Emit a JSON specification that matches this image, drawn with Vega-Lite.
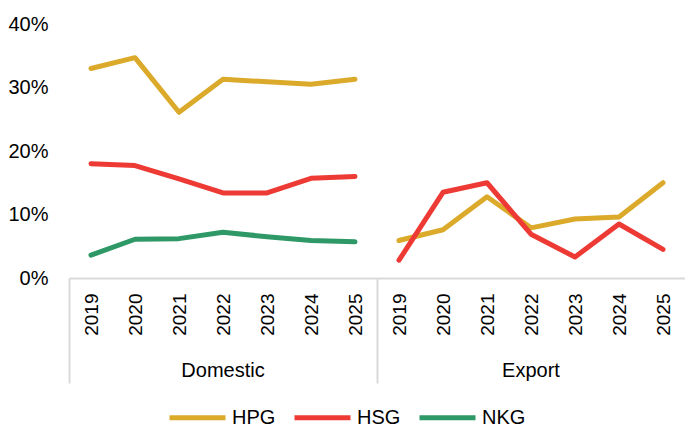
{
  "$schema": "https://vega.github.io/schema/vega-lite/v6.json",
  "padding": {"left": 7, "top": 14, "right": 0, "bottom": 0},
  "background": "white",
  "data": {"values": [
    {"market": "Domestic", "year": "2019", "company": "HPG", "share": 0.330},
    {"market": "Domestic", "year": "2020", "company": "HPG", "share": 0.347},
    {"market": "Domestic", "year": "2021", "company": "HPG", "share": 0.261},
    {"market": "Domestic", "year": "2022", "company": "HPG", "share": 0.313},
    {"market": "Domestic", "year": "2023", "company": "HPG", "share": 0.309},
    {"market": "Domestic", "year": "2024", "company": "HPG", "share": 0.305},
    {"market": "Domestic", "year": "2025", "company": "HPG", "share": 0.313},
    {"market": "Domestic", "year": "2019", "company": "HSG", "share": 0.180},
    {"market": "Domestic", "year": "2020", "company": "HSG", "share": 0.177},
    {"market": "Domestic", "year": "2021", "company": "HSG", "share": 0.156},
    {"market": "Domestic", "year": "2022", "company": "HSG", "share": 0.134},
    {"market": "Domestic", "year": "2023", "company": "HSG", "share": 0.134},
    {"market": "Domestic", "year": "2024", "company": "HSG", "share": 0.157},
    {"market": "Domestic", "year": "2025", "company": "HSG", "share": 0.160},
    {"market": "Domestic", "year": "2019", "company": "NKG", "share": 0.036},
    {"market": "Domestic", "year": "2020", "company": "NKG", "share": 0.061},
    {"market": "Domestic", "year": "2021", "company": "NKG", "share": 0.062},
    {"market": "Domestic", "year": "2022", "company": "NKG", "share": 0.072},
    {"market": "Domestic", "year": "2023", "company": "NKG", "share": 0.065},
    {"market": "Domestic", "year": "2024", "company": "NKG", "share": 0.059},
    {"market": "Domestic", "year": "2025", "company": "NKG", "share": 0.057},
    {"market": "Export", "year": "2019", "company": "HPG", "share": 0.059},
    {"market": "Export", "year": "2020", "company": "HPG", "share": 0.076},
    {"market": "Export", "year": "2021", "company": "HPG", "share": 0.128},
    {"market": "Export", "year": "2022", "company": "HPG", "share": 0.079},
    {"market": "Export", "year": "2023", "company": "HPG", "share": 0.093},
    {"market": "Export", "year": "2024", "company": "HPG", "share": 0.096},
    {"market": "Export", "year": "2025", "company": "HPG", "share": 0.150},
    {"market": "Export", "year": "2019", "company": "HSG", "share": 0.028},
    {"market": "Export", "year": "2020", "company": "HSG", "share": 0.135},
    {"market": "Export", "year": "2021", "company": "HSG", "share": 0.150},
    {"market": "Export", "year": "2022", "company": "HSG", "share": 0.069},
    {"market": "Export", "year": "2023", "company": "HSG", "share": 0.033},
    {"market": "Export", "year": "2024", "company": "HSG", "share": 0.085},
    {"market": "Export", "year": "2025", "company": "HSG", "share": 0.045}
  ]},
  "facet": {
    "column": {
      "field": "market", "type": "nominal", "sort": ["Domestic", "Export"],
      "header": {"title": null, "labelOrient": "bottom", "labelFontSize": 20, "labelFont": "Liberation Sans", "labelColor": "#000000", "labelPadding": -23}
    }
  },
  "spacing": 0,
  "spec": {
    "width": 308,
    "height": 254,
    "mark": {"type": "line", "strokeWidth": 5, "strokeCap": "round", "strokeJoin": "round"},
    "encoding": {
      "x": {
        "field": "year", "type": "ordinal",
        "scale": {"type": "band", "paddingInner": 0, "paddingOuter": 0},
        "axis": {
          "title": null,
          "domainColor": "#D9D9D9", "domainWidth": 2,
          "tickBand": "extent",
          "tickSize": 105, "tickWidth": 2, "tickColor": "#D9D9D9",
          "tickOpacity": {"condition": {"test": "datum.extra", "value": 1}, "value": 0},
          "labelAngle": -90, "labelAlign": "right", "labelBaseline": "middle",
          "labelPadding": -90, "labelFontSize": 19, "labelFont": "Liberation Sans", "labelColor": "#000000"
        }
      },
      "y": {
        "field": "share", "type": "quantitative",
        "scale": {"domain": [0, 0.4]},
        "axis": {"title": null, "format": ".0%", "values": [0, 0.1, 0.2, 0.3, 0.4], "grid": false, "domain": false, "ticks": false, "labelPadding": 21, "labelFontSize": 20, "labelFont": "Liberation Sans", "labelColor": "#000000"}
      },
      "color": {
        "field": "company", "type": "nominal",
        "scale": {"domain": ["HPG", "HSG", "NKG"], "range": ["#DBAA2A", "#EE3A34", "#2E9966"]},
        "legend": {"title": null, "orient": "bottom", "direction": "horizontal", "symbolType": "stroke", "symbolStrokeWidth": 5, "symbolSize": 3136, "labelFontSize": 20, "labelFont": "Liberation Sans", "labelColor": "#000000", "labelOffset": 4, "columnPadding": 8, "offset": 3}
      }
    }
  },
  "config": {"view": {"stroke": null}, "legend": {"layout": {"bottom": {"anchor": "middle"}}}}
}
